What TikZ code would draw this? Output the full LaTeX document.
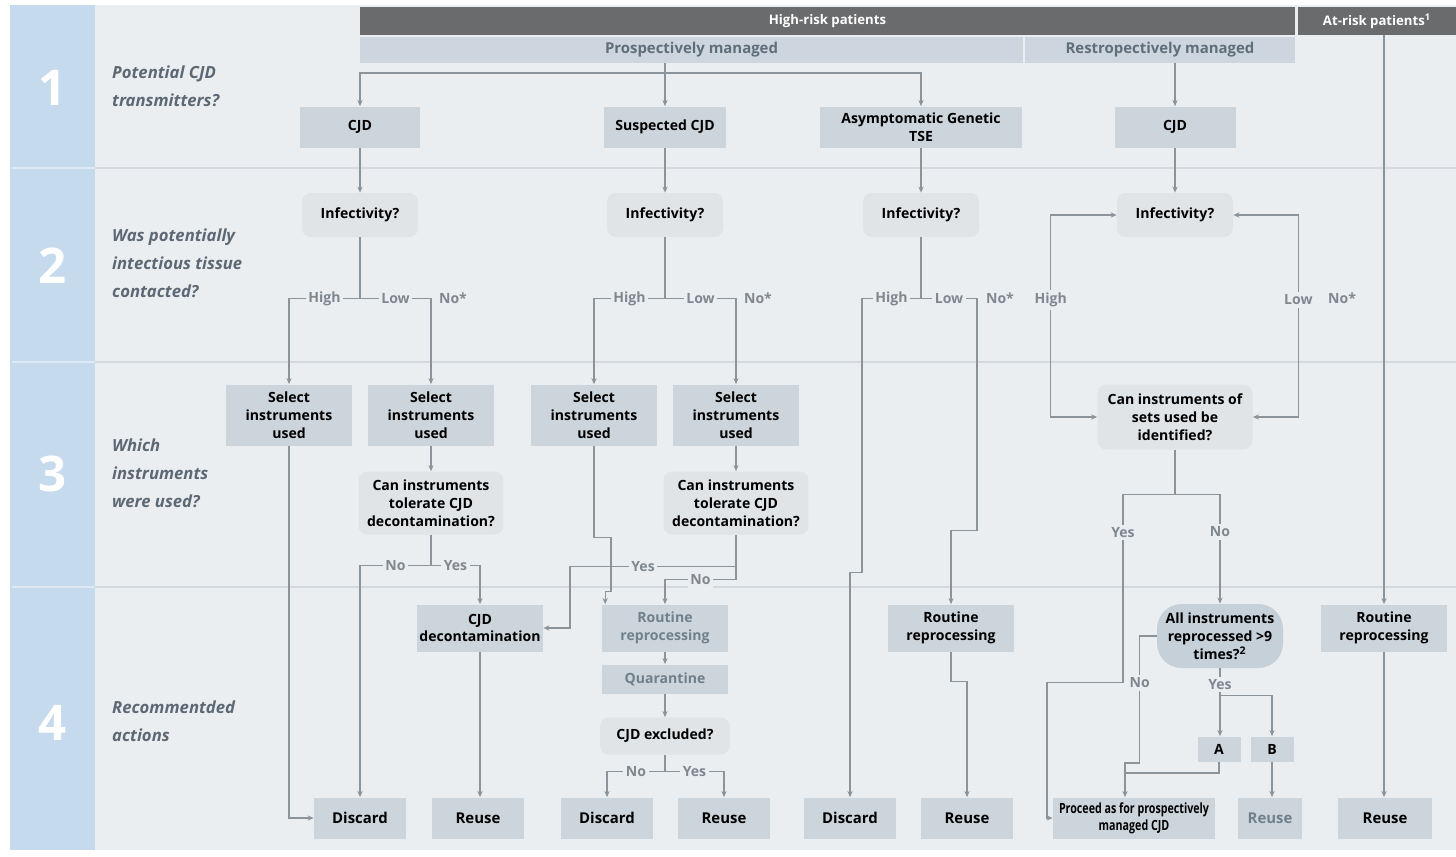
\documentclass[tikz,border=0pt]{standalone}
\usepackage{fontspec}
\setmainfont{Open Sans}
\usetikzlibrary{arrows.meta}
\definecolor{bgmain}{HTML}{EBEEF1}
\definecolor{band}{HTML}{C6DAED}
\definecolor{sepgray}{HTML}{D3D9DE}
\definecolor{hdrdark}{HTML}{6A6B6D}
\definecolor{hdrlight}{HTML}{CDD6DE}
\definecolor{subtxt}{HTML}{5E6E7A}
\definecolor{boxfill}{HTML}{CDD5DC}
\definecolor{askfill}{HTML}{E1E4E7}
\definecolor{pillfill}{HTML}{C6D0D9}
\definecolor{linegray}{HTML}{8C949B}
\definecolor{lbltxt}{HTML}{7F888F}
\definecolor{rowtxt}{HTML}{5C6873}
\definecolor{graytxt}{HTML}{6F808C}
\tikzset{
  sz/.style 2 args={minimum width=#1, minimum height=#2},
  act/.style={fill=boxfill, inner sep=1pt, align=center, text=black,
              font=\fontsize{8}{10.2}\selectfont\bfseries},
  ask/.style={act, fill=askfill, rounded corners=5pt},
  pill/.style={act, fill=pillfill, rounded corners=14pt},
  hdr/.style={fill=hdrdark, text=white, inner sep=0pt, minimum height=0.56cm,
              font=\fontsize{7.5}{9}\selectfont\bfseries},
  sub/.style={fill=hdrlight, text=subtxt, inner sep=0pt, minimum height=0.52cm,
              font=\fontsize{8.5}{10}\selectfont\bfseries},
  flow/.style={-{Stealth[length=3.5pt,width=3pt]}, line width=0.7pt, draw=linegray},
  biflow/.style={{Stealth[length=3.5pt,width=3pt]}-{Stealth[length=3.5pt,width=3pt]},
                 line width=0.7pt, draw=linegray},
  link/.style={line width=0.7pt, draw=linegray},
  lbl/.style={fill=bgmain, inner sep=1.5pt, text=lbltxt,
              font=\fontsize{8}{9}\selectfont\bfseries},
  rowlbl/.style={anchor=west, align=left, text=rowtxt,
                 font=\fontsize{9.5}{15.9}\selectfont\bfseries\itshape},
  rownum/.style={text=white, font=\fontsize{28}{28}\selectfont\bfseries},
  sepline/.style={draw=sepgray, line width=0.6pt},
}

\begin{document}
\begin{tikzpicture}[x=0.02cm, y=-0.02cm]
  \useasboundingbox (0,0) rectangle (1456,856);
  % background, band and row separators
  \fill[white] (0,0) rectangle (1456,856);
  \fill[bgmain] (95,5) rectangle (1456,850);
  \fill[band] (10,5) rectangle (95,850);
  \foreach \y in {168,362,587}{
    \draw[sepline] (95,\y) -- (1456,\y);
    \draw[draw=band!60!white, line width=0.6pt] (12,\y) -- (95,\y);}
  \foreach \n/\y in {1/88,2/266,3/474,4/723}
    \node[rownum] (n\n) at (53,\y) {\n};
  \node[rowlbl] (q1) at (106,86) {Potential CJD\\transmitters?};
  \node[rowlbl] (q2) at (106,263) {Was potentially\\intectious tissue\\contacted?};
  \node[rowlbl] (q3) at (106,473) {Which\\instruments\\were used?};
  \node[rowlbl] (q4) at (106,721) {Recommentded\\actions};

  % headers
  \node[hdr, minimum width=18.7cm] (hr) at (827.5,21) {High-risk patients};
  \node[hdr, minimum width=3.16cm] (ar) at (1377,21) {At-risk patients\textsuperscript{1}};
  \node[sub, minimum width=13.26cm] (pm) at (691.5,50) {Prospectively managed};
  \node[sub, minimum width=5.4cm] (rm) at (1160,50) {Restropectively managed};

  % row 1
  \node[act, sz={2.4cm}{0.82cm}] (t1) at (360,127) {CJD};
  \node[act, sz={2.46cm}{0.82cm}] (t2) at (665,127) {Suspected CJD};
  \node[act, sz={4.06cm}{0.82cm}] (t3) at (921,127) {Asymptomatic Genetic\\TSE};
  \node[act, sz={2.42cm}{0.82cm}] (t4) at (1175,127) {CJD};

  % row 2
  \foreach \n/\x in {1/360,2/665,3/921,4/1175}
    \node[ask, sz={2.32cm}{0.88cm}] (i\n) at (\x,215) {Infectivity?};

  % row 3
  \foreach \n/\x in {s1/289,s2/431,s3/594,s4/736}
    \node[act, sz={2.52cm}{1.22cm}] (\n) at (\x,415) {Select\\instruments\\used};
  \node[ask, sz={2.9cm}{1.26cm}] (c1) at (431,503) {Can instruments\\tolerate CJD\\decontamination?};
  \node[ask, sz={2.9cm}{1.26cm}] (c2) at (736,503) {Can instruments\\tolerate CJD\\decontamination?};
  \node[ask, sz={3.1cm}{1.3cm}] (id) at (1175,417) {Can instruments of\\sets used be\\identified?};

  % row 4
  \node[act, sz={2.52cm}{0.94cm}] (d1) at (480,628) {CJD\\decontamination};
  \node[act, sz={2.52cm}{0.94cm}, text=graytxt] (rr2) at (665,628) {Routine\\reprocessing};
  \node[act, sz={2.52cm}{0.58cm}, text=graytxt] (q) at (665,679) {Quarantine};
  \node[ask, sz={2.6cm}{0.74cm}] (ex) at (665,736) {CJD excluded?};
  \node[act, sz={2.52cm}{0.94cm}] (rr3) at (951,628) {Routine\\reprocessing};
  \node[pill, sz={2.52cm}{1.28cm}] (all) at (1220,636) {All instruments\\reprocessed >9\\times?\textsuperscript{2}};
  \node[act, sz={0.86cm}{0.5cm}] (a) at (1219,749) {A};
  \node[act, sz={0.86cm}{0.5cm}] (b) at (1272,749) {B};
  \node[act, sz={2.52cm}{0.94cm}] (rr5) at (1384,628) {Routine\\reprocessing};
  \foreach \n/\x/\t in {dis1/360/Discard, reu1/478/Reuse, dis2/607/Discard,
                        reu2/724/Reuse, dis3/850/Discard, reu3/967/Reuse}
    \node[act, sz={1.84cm}{0.82cm}, font=\fontsize{8.5}{10}\selectfont\bfseries] (\n) at (\x,818) {\t};
  \node[act, sz={3.24cm}{0.82cm}, font=\fontsize{8}{9.5}\selectfont\bfseries] (pro) at (1134,818)
    {\scalebox{0.76}[1]{Proceed as for prospectively}\\\scalebox{0.76}[1]{managed CJD}};
  \node[act, sz={1.28cm}{0.82cm}, text=graytxt, font=\fontsize{8.5}{10}\selectfont\bfseries] (reu4) at (1270,818) {Reuse};
  \node[act, sz={1.88cm}{0.82cm}, font=\fontsize{8.5}{10}\selectfont\bfseries] (reu5) at (1385,818) {Reuse};

  % headers to row 1
  \coordinate (pj) at (665,73);
  \draw[link] (pm.south -| pj) -- (pj);
  \draw[flow] (pj) -- (t2.north);
  \draw[flow] (pj) -| (t1.north);
  \draw[flow] (pj) -| (t3.north);
  \draw[flow] (rm.south -| t4.north) -- (t4.north);
  \draw[flow] (ar.south -| rr5.north) -- (rr5.north);
  \foreach \n in {1,...,4}
    \draw[flow] (t\n.south) -- (i\n.north);

  % infectivity branches
  \foreach \n/\l/\r/\no in {1/s1/s2/453, 2/s3/s4/758}{
    \draw[link] (i\n.south) -- ++(0,61) coordinate (b\n);
    \draw[flow] (b\n) -| node[lbl,pos=0.25]{High} (\l.north);
    \draw[flow] (b\n) -| node[lbl,pos=0.25]{Low} (\r.north);
    \node[lbl] (no\n) at (\no,298) {No*};}
  \draw[link] (i3.south) -- ++(0,61) coordinate (b3);
  \draw[flow] (b3) -| node[lbl,pos=0.25]{High} ++(-59,274) -| (dis3.north);
  \draw[flow] (b3) -| node[lbl,pos=0.25]{Low} ++(56,232) -| (rr3.north);
  \node[lbl] (no3) at (1000,298) {No*};
  \draw[biflow] (i4.west) -- ++(-66,0) |- node[lbl,pos=0.21]{High} (id.west);
  \draw[biflow] (i4.east) -- ++(65,0) |- node[lbl,pos=0.21]{Low} (id.east);
  \node[lbl] (no4) at (1342,298) {No*};

  % CJD, prospective
  \draw[flow] (s1.south) |- (dis1.west);
  \draw[flow] (s2) -- (c1);
  \draw[link] (c1.south) -- ++(0,31) coordinate (cj1);
  \draw[flow] (cj1) -| node[lbl,pos=0.25]{No} (dis1.north);
  \draw[flow] (cj1) -| node[lbl,pos=0.25]{Yes} (d1.north);
  \draw[flow] (d1.south) -- (d1.south |- reu1.north);

  % suspected CJD
  \draw[flow] (s3.south) -- ++(0,92) -- ++(17,0) -- ++(0,54) -| ([xshift=2pt]rr2.north west);
  \draw[flow] (s4) -- (c2);
  \draw[link] (c2.south) -- ++(0,32) coordinate (cj2);
  \draw[flow] (cj2) -- node[lbl,pos=0.56]{Yes} ++(-166,0) |- (d1.east);
  \draw[flow] (cj2) -- ++(0,13) -| node[lbl,pos=0.25]{No} (rr2.north);
  \draw[flow] (rr2) -- (q);
  \draw[flow] (q) -- (ex);
  \draw[link] (ex.south) -- ++(0,17) coordinate (ej);
  \draw[flow] (ej) -| node[lbl,pos=0.25]{No} (dis2.north);
  \draw[flow] (ej) -| node[lbl,pos=0.25]{Yes} (reu2.north);

  % asymptomatic genetic TSE
  \draw[flow] (rr3.south) -- ++(0,30) -| (reu3.north);

  % CJD, retrospective
  \draw[link] (id.south) -- ++(0,45) coordinate (bj);
  \draw[flow] (bj) -| node[lbl,pos=0.6]{Yes} ++(-52,188) -- ++(-76,0) |- (pro.west);
  \draw[flow] (bj) -| node[lbl,pos=0.67]{No} (all.north);
  \coordinate (pin) at (1125,773);
  \draw[link] (all.west) -- ++(-17,0) -- node[lbl,pos=0.37]{No} ++(0,127) -| (pin);
  \draw[link] (a.south) |- (pin);
  \draw[flow] (pin) -- (pin |- pro.north);
  \draw[link] (all.south) -- node[lbl,pos=0.6]{Yes} ++(0,27) coordinate (yj);
  \draw[flow] (yj) -- (yj |- a.north);
  \draw[flow] (yj) -| (b.north);
  \draw[flow] (b.south) -- (b.south |- reu4.north);

  % at-risk
  \draw[flow] (rr5.south) -- (rr5.south |- reu5.north);
\end{tikzpicture}
\end{document}
